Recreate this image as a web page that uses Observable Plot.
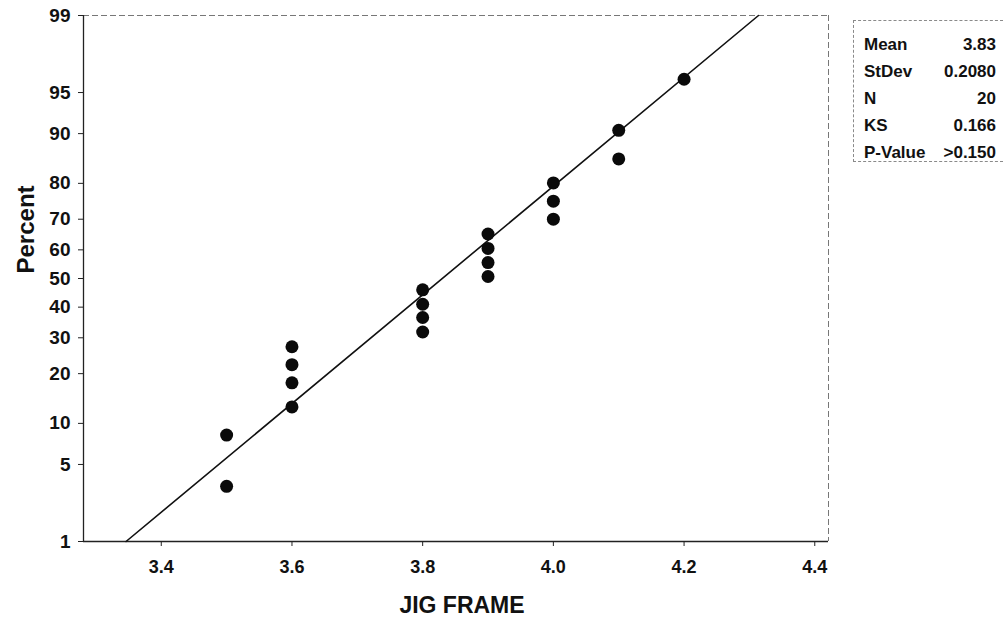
<!DOCTYPE html>
<html>
<head>
<meta charset="utf-8">
<script src="https://cdn.jsdelivr.net/npm/d3@7"></script>
<script src="https://cdn.jsdelivr.net/npm/@observablehq/plot@0.6"></script>
<style>
  html, body { margin: 0; padding: 0; background: #ffffff; }
  #wrap { position: relative; width: 1003px; height: 623px; overflow: hidden; }
  #stats {
    position: absolute; left: 853px; top: 20px; width: 150px; height: 142px;
    box-sizing: border-box; border: 1px dashed #8a8a8a; border-right: none;
    padding: 10px 7px 0 10px;
    font-family: "Liberation Sans", Arial, sans-serif; font-weight: bold; font-size: 17px; color: #111;
  }
  #stats .row { display: flex; justify-content: space-between; height: 27px; line-height: 27px; }
</style>
</head>
<body>
<div id="wrap"><div id="stats"></div></div>
<script>
// ---- data ----
const jigFrame = [3.5, 3.5, 3.6, 3.6, 3.6, 3.6, 3.8, 3.8, 3.8, 3.8, 3.9, 3.9, 3.9, 3.9, 4.0, 4.0, 4.0, 4.1, 4.1, 4.2];
const percent  = [3.3, 8.3, 12.8, 17.8, 22.3, 27.3, 31.8, 36.5, 41.0, 46.0, 50.7, 55.6, 60.5, 65.3, 70.0, 75.3, 80.1, 85.5, 90.5, 96.1];
const percentTicks = [1, 5, 10, 20, 30, 40, 50, 60, 70, 80, 90, 95, 99];
const xTicks = [3.4, 3.6, 3.8, 4.0, 4.2, 4.4];
const statLabels = ["Mean", "StDev", "N", "KS", "P-Value"];
const statValues = ["3.83", "0.2080", "20", "0.166", ">0.150"];
const fitMean = 3.83;
const fitStDev = 0.2080;
const fitRange = [1, 99]; // percent range of the fitted line
const xDomain = [3.281, 4.421];

// inverse normal CDF (Acklam) for the probability scale
function probit(p) {
  const a = [-3.969683028665376e+01, 2.209460984245205e+02, -2.759285104469687e+02, 1.383577518672690e+02, -3.066479806614716e+01, 2.506628277459239e+00];
  const b = [-5.447609879822406e+01, 1.615858368580409e+02, -1.556989798598866e+02, 6.680131188771972e+01, -1.328068155288572e+01];
  const c = [-7.784894002430293e-03, -3.223964580411365e-01, -2.400758277161838e+00, -2.549732539343734e+00, 4.374664141464968e+00, 2.938163982698783e+00];
  const d = [7.784695709041462e-03, 3.224671290700398e-01, 2.445134137142996e+00, 3.754408661907416e+00];
  const pl = 0.02425, ph = 1 - pl;
  let q, r;
  if (p < pl) {
    q = Math.sqrt(-2 * Math.log(p));
    return (((((c[0]*q+c[1])*q+c[2])*q+c[3])*q+c[4])*q+c[5]) / ((((d[0]*q+d[1])*q+d[2])*q+d[3])*q+1);
  }
  if (p > ph) {
    q = Math.sqrt(-2 * Math.log(1 - p));
    return -(((((c[0]*q+c[1])*q+c[2])*q+c[3])*q+c[4])*q+c[5]) / ((((d[0]*q+d[1])*q+d[2])*q+d[3])*q+1);
  }
  q = p - 0.5; r = q * q;
  return (((((a[0]*r+a[1])*r+a[2])*r+a[3])*r+a[4])*r+a[5])*q / (((((b[0]*r+b[1])*r+b[2])*r+b[3])*r+b[4])*r+1);
}
const z = pct => probit(pct / 100);

const points = jigFrame.map((x, i) => ({x, z: z(percent[i])}));
const fitLine = fitRange.map(p => ({z: z(p), x: fitMean + fitStDev * z(p)}));
const yTickZ = percentTicks.map(z);
const yDomain = [z(percentTicks[0]), z(percentTicks[percentTicks.length - 1])];
const fmtY = v => { const i = yTickZ.findIndex(t => Math.abs(t - v) < 1e-9); return i >= 0 ? String(percentTicks[i]) : ""; };

const font = "'Liberation Sans', Arial, sans-serif";

const chart = Plot.plot({
  width: 1003,
  height: 623,
  marginLeft: 83,
  marginRight: 175,
  marginTop: 15,
  marginBottom: 82,
  style: {fontFamily: font, fontWeight: "bold", color: "#111", background: "transparent", overflow: "visible"},
  x: {domain: xDomain},
  y: {domain: yDomain},
  marks: [
    Plot.frame({fill: "white", stroke: "none"}),
    Plot.ruleY([yDomain[1]], {stroke: "#777", strokeDasharray: "6,3", strokeWidth: 1}),
    Plot.ruleX([xDomain[1]], {stroke: "#777", strokeDasharray: "6,3", strokeWidth: 1}),
    Plot.ruleY([yDomain[0]], {stroke: "#222", strokeWidth: 1.3}),
    Plot.ruleX([xDomain[0]], {stroke: "#222", strokeWidth: 1.3}),
    Plot.axisX(xTicks, {tickFormat: d3.format(".1f"), tickSize: 5, tickPadding: 14, fontSize: 18, fontWeight: "bold", label: null, stroke: "#222"}),
    Plot.axisY(yTickZ, {tickFormat: fmtY, tickSize: 5, tickPadding: 8, fontSize: 19, fontWeight: "bold", label: null, stroke: "#222"}),
    Plot.line(fitLine, {x: "x", y: "z", stroke: "#111", strokeWidth: 1.6}),
    Plot.dot(points, {x: "x", y: "z", r: 6.5, fill: "#0a0a0a", stroke: "none"}),
    Plot.text(["JIG FRAME"], {frameAnchor: "bottom", dx: 6, dy: 64, fontSize: 23, fontWeight: "bold", letterSpacing: "-1px", fill: "#111", lineAnchor: "middle"}),
    Plot.text(["Percent"], {frameAnchor: "left", rotate: -90, dx: -57, dy: -5, fontSize: 24, fontWeight: "bold", fill: "#111"})
  ]
});
chart.style.position = "absolute";
chart.style.left = "0px";
chart.style.top = "0px";
const wrap = document.getElementById("wrap");
wrap.insertBefore(chart, wrap.firstChild);

const stats = document.getElementById("stats");
statLabels.forEach((lab, i) => {
  const row = document.createElement("div");
  row.className = "row";
  const a = document.createElement("span"); a.textContent = lab;
  const b = document.createElement("span"); b.textContent = statValues[i];
  row.appendChild(a); row.appendChild(b);
  stats.appendChild(row);
});
</script>
</body>
</html>
